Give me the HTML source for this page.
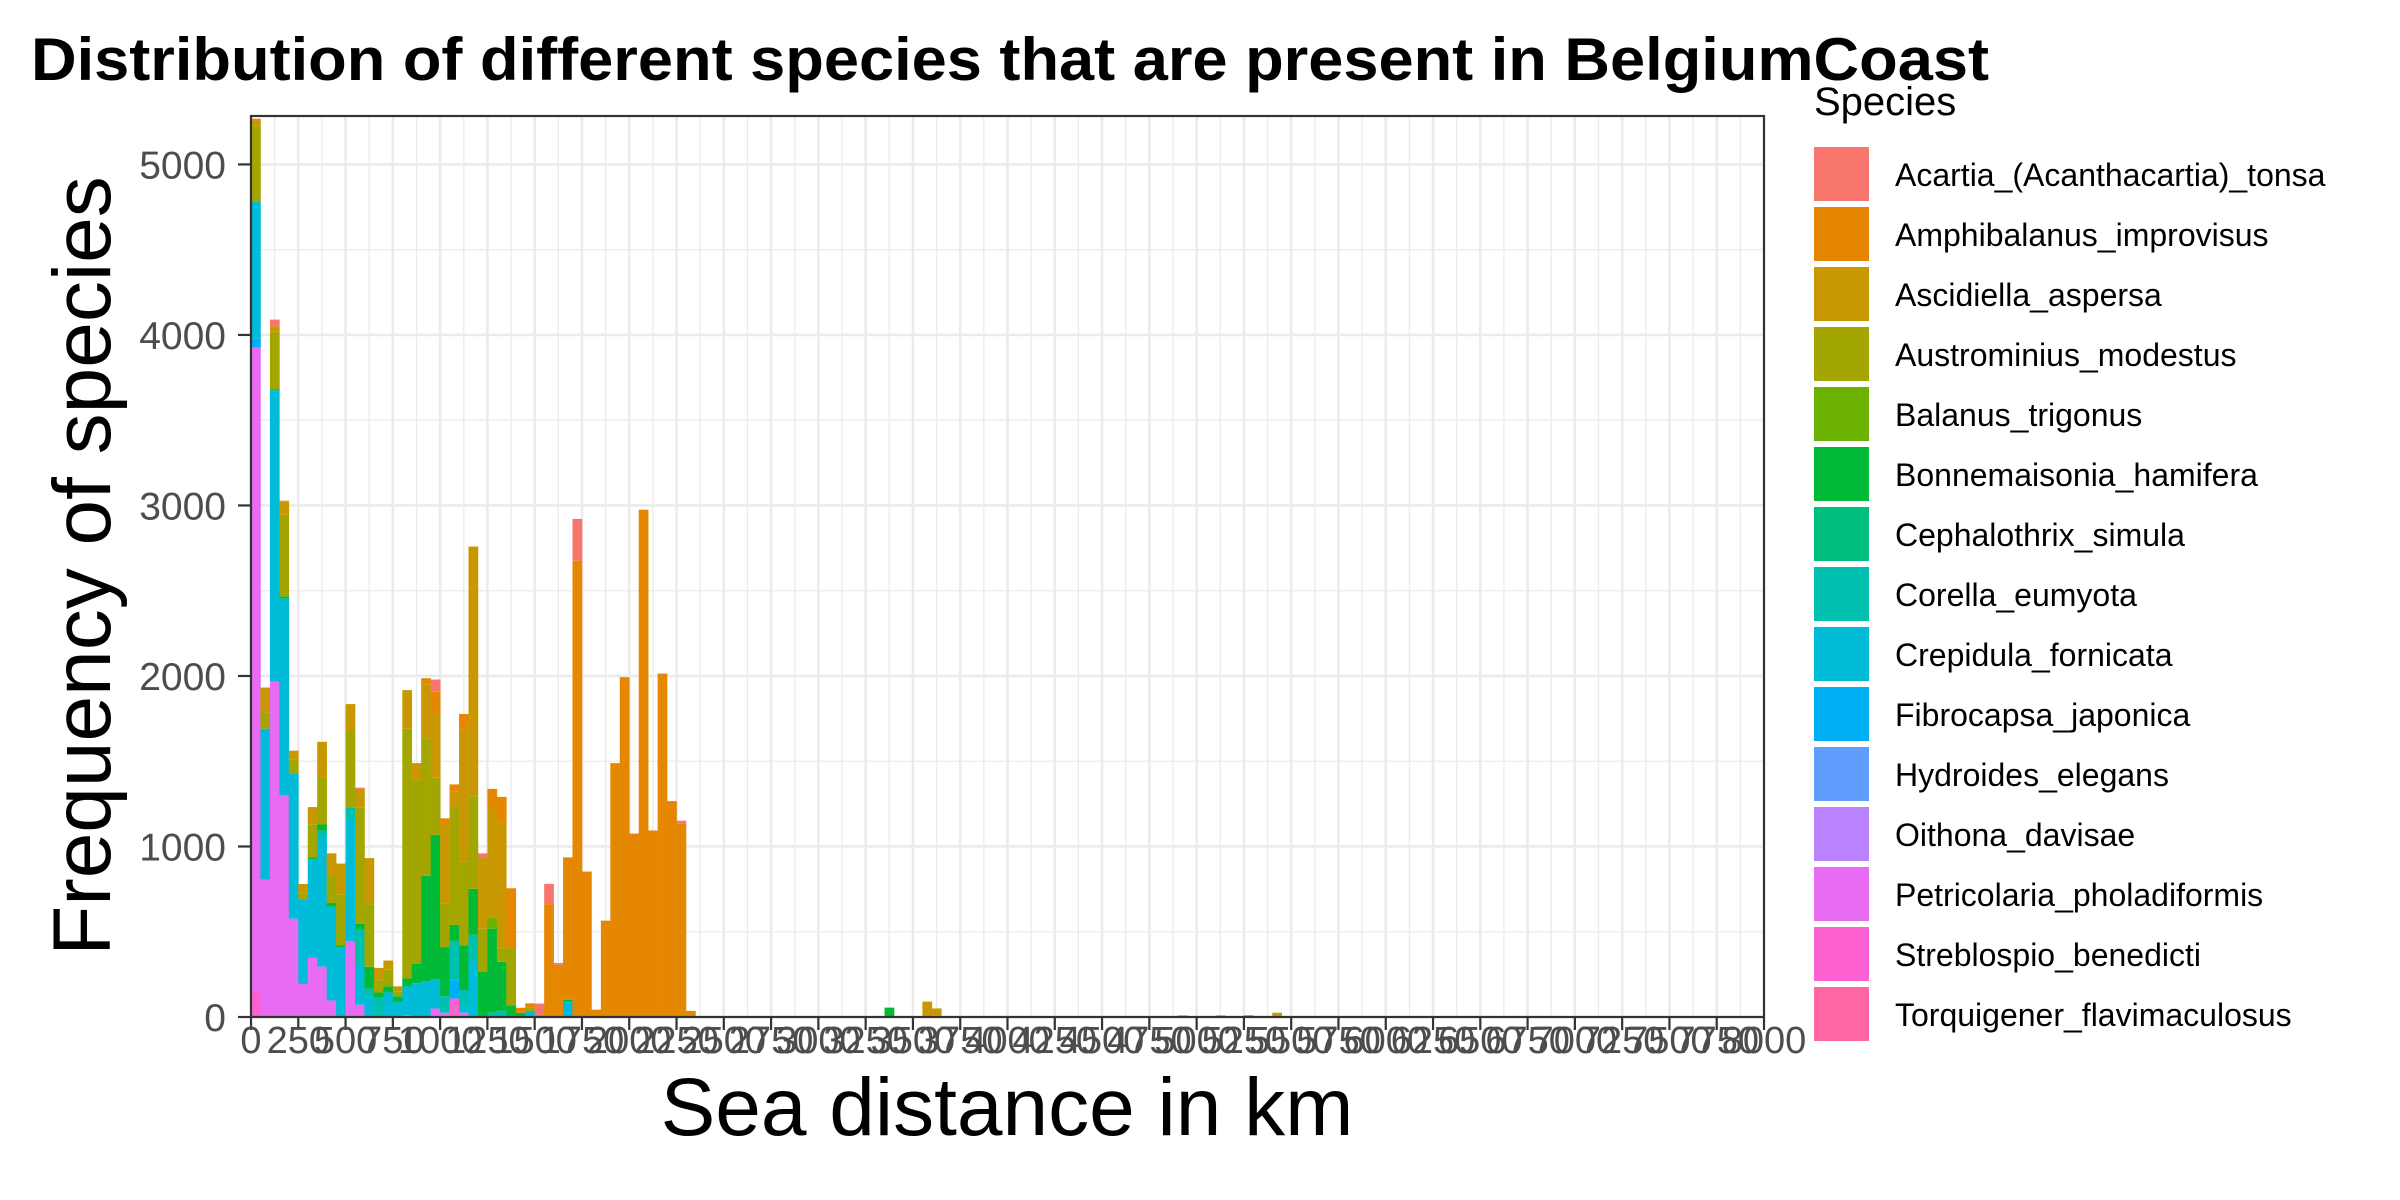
<!DOCTYPE html>
<html><head><meta charset="utf-8"><style>
html,body{margin:0;padding:0;background:#fff;}
svg{display:block;font-family:"Liberation Sans",Arial,sans-serif;}
</style></head><body>
<svg id="chart" width="2400" height="1200" viewBox="0 0 2400 1200" xmlns="http://www.w3.org/2000/svg">
<rect width="2400" height="1200" fill="#fff"/>
<text x="31" y="80" font-size="60" font-weight="bold" fill="#000" textLength="1958" lengthAdjust="spacingAndGlyphs">Distribution of different species that are present in BelgiumCoast</text>
<g id="grid"></g><g id="bars"></g><g id="axes"></g>
<text x="1007" y="1135" font-size="82" text-anchor="middle" fill="#000">Sea distance in km</text>
<text transform="translate(110,566) rotate(-90)" font-size="82" text-anchor="middle" fill="#000">Frequency of species</text>
<text x="1814" y="115" font-size="40" fill="#000">Species</text>
<g id="legend"></g>
</svg>
<script>
const binStarts=[0,50,100,150,200,250,300,350,400,450,500,550,600,650,700,750,800,850,900,950,1000,1050,1100,1150,1200,1250,1300,1350,1400,1450,1500,1550,1600,1650,1700,1750,1800,1850,1900,1950,2000,2050,2100,2150,2200,2250,2300,3350,3550,3600,4900,5100,5250,5400];
const speciesNames=["Acartia_(Acanthacartia)_tonsa","Amphibalanus_improvisus","Ascidiella_aspersa","Austrominius_modestus","Balanus_trigonus","Bonnemaisonia_hamifera","Cephalothrix_simula","Corella_eumyota","Crepidula_fornicata","Fibrocapsa_japonica","Hydroides_elegans","Oithona_davisae","Petricolaria_pholadiformis","Streblospio_benedicti","Torquigener_flavimaculosus"];
const speciesColors=["#F8766D","#E58700","#C99800","#A3A500","#6BB100","#00BA38","#00BF7D","#00C0AF","#00BCD8","#00B0F6","#619CFF","#B983FF","#E76BF3","#FD61D1","#FF67A4"];
const acartia=[0,0,40,7,0,0,0,0,0,0,0,7,0,0,0,0,0,0,0,72,0,0,0,0,25,0,0,0,0,0,65,119,11,0,245,0,0,0,0,0,0,0,0,0,0,18,0,0,0,0,10,10,0,0];
const amphibalanus=[10,0,0,0,0,0,0,0,0,0,0,0,0,0,0,0,0,0,36,130,36,43,90,0,0,115,151,345,29,22,14,662,306,835,2676,853,43,565,1489,1993,1076,2975,1094,2014,1266,1133,36,0,0,0,0,0,0,0];
const ascidiella=[29,144,32,76,54,54,101,212,133,180,155,108,270,72,54,29,227,97,317,374,464,90,773,1464,417,640,737,0,0,0,0,0,0,0,0,0,0,0,0,0,0,0,0,0,0,0,0,0,90,40,0,0,0,25];
const austrominius=[446,97,335,478,79,36,194,273,158,299,450,683,367,72,97,29,1464,1079,806,335,255,691,493,543,252,0,79,342,0,22,0,0,0,0,0,0,0,0,0,0,0,0,0,0,0,0,0,0,0,10,0,0,0,0];
const balanus=[0,0,0,0,0,0,0,0,0,0,0,0,0,0,0,0,0,0,0,0,0,0,0,0,0,65];
const bonnemaisonia=[0,0,0,14,0,0,11,36,22,11,0,36,130,29,36,36,47,115,619,845,288,94,263,270,266,493,288,68,25,0,0,0,0,11,0,0,0,0,0,0,0,0,0,0,0,0,0,55,0,0,0,0,0,0];
const cephalothrix=[];
const corella=[0,0,14,0,0,0,0,43,0,0,72,209,50,115,0,0,0,0,0,0,97,230,97,151,0,25,36,0,0,0,0,0,0,0,0,0,0,0,0,0,0,0,0,0,0,0,0,0,0,0,0,0,10,0];
const crepidula=[802,885,1701,1151,853,496,576,755,550,410,712,230,115,0,144,86,169,198,209,173,0,0,36,331,0,0,0,0,0,36,0,0,0,90];
const fibrocapsa=[54,0,0,0,0,0,0,0,0,0,0,0,0,0,0,0,0,0,0,0,0,108];
const hydroides=[];
const oithona=[];
const petricolaria=[3777,806,1968,1302,576,194,349,295,97,0,446,72,0,0,0,0,10,0,0,50,25,0,25];
const streblospio=[150,0,0,0,0,0,0,0,0,0,0,0,0,0,0,0,0,0,0,0,0,108];
const torquigener=[];
const seriesValues=[acartia,amphibalanus,ascidiella,austrominius,balanus,bonnemaisonia,cephalothrix,corella,crepidula,fibrocapsa,hydroides,oithona,petricolaria,streblospio,torquigener];
const xTicks=[];for(let v=0;v<=8000;v+=250)xTicks.push(v);
const yTicks=[0,1000,2000,3000,4000,5000];
const binWidth=50;

const NS="http://www.w3.org/2000/svg";
const L=251,R=1764,T=116,B=1017,XMAX=8000,YMAX=5284;
function X(v){return L+v/XMAX*(R-L);}
function Y(v){return B-v/YMAX*(B-T);}
function mk(tag,attrs,parent){const e=document.createElementNS(NS,tag);for(const k in attrs)e.setAttribute(k,attrs[k]);parent.appendChild(e);return e;}
const grid=document.getElementById('grid'),bars=document.getElementById('bars'),axes=document.getElementById('axes'),legend=document.getElementById('legend');
mk('rect',{x:L,y:T,width:R-L,height:B-T,fill:'#fff'},grid);
for(let v=500;v<YMAX;v+=1000){const l=mk('line',{x1:L,x2:R,y1:Y(v),y2:Y(v),stroke:'#ebebeb','stroke-width':1.3},grid);}
for(let i=0;i<xTicks.length-1;i++){const v=xTicks[i]+125;const l=mk('line',{x1:X(v),x2:X(v),y1:T,y2:B,stroke:'#ebebeb','stroke-width':1.3},grid);}
yTicks.forEach(v=>{const l=mk('line',{x1:L,x2:R,y1:Y(v),y2:Y(v),stroke:'#ebebeb','stroke-width':2.6},grid);});
xTicks.forEach(v=>{const l=mk('line',{x1:X(v),x2:X(v),y1:T,y2:B,stroke:'#ebebeb','stroke-width':2.6},grid);});
// stacked bars: first species on top, last at bottom
binStarts.forEach((b,i)=>{
  let cum=0;
  for(let s=seriesValues.length-1;s>=0;s--){
    const val=seriesValues[s][i]||0;if(!val)continue;
    const r=mk('rect',{x:X(b),width:X(b+binWidth)-X(b)+0.3,y:Y(cum+val),height:Y(cum)-Y(cum+val),fill:speciesColors[s]},bars);
    
    
    cum+=val;
  }
});
const border=mk('rect',{x:L,y:T,width:R-L,height:B-T,fill:'none',stroke:'#333','stroke-width':2.2},axes);

yTicks.forEach(v=>{
  mk('line',{x1:L-13,x2:L,y1:Y(v),y2:Y(v),stroke:'#333','stroke-width':2.2},axes);
  const t=mk('text',{x:L-25,y:Y(v)+14,'font-size':39,'text-anchor':'end',fill:'#4d4d4d'},axes);t.textContent=v;
  
});
xTicks.forEach(v=>{
  mk('line',{x1:X(v),x2:X(v),y1:B,y2:B+13,stroke:'#333','stroke-width':2.2},axes);
  const t=mk('text',{x:X(v),y:1053,'font-size':38,'text-anchor':'middle',fill:'#4d4d4d'},axes);t.textContent=v;
  
});
speciesNames.forEach((n,i)=>{
  const g=mk('g',{},legend);
  
  mk('rect',{x:1814,y:147+60*i,width:55,height:54,fill:speciesColors[i]},g);
  const t=mk('text',{x:1895,y:186+60*i,'font-size':32,fill:'#000'},g);t.textContent=n;
});
</script>
</body></html>
